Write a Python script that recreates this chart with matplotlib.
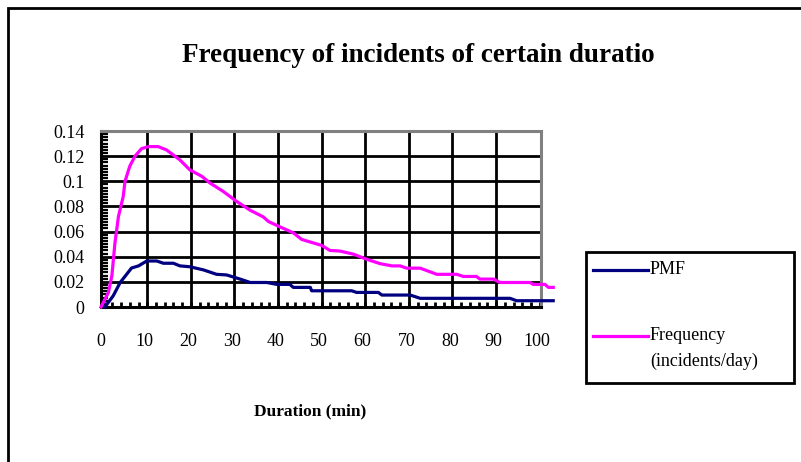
import matplotlib
matplotlib.use("Agg")
import matplotlib.pyplot as plt
import numpy as np
from matplotlib.patches import Rectangle
from matplotlib.lines import Line2D

plt.rcParams['font.family'] = ['Liberation Serif', 'DejaVu Serif']

# ---- data ----
dur_freq = [0, 1.7, 2.5, 3.2, 4.0, 5.1, 5.5, 6.6, 7.8, 9.3, 10.9, 13.1, 15.0, 18.1,
            20.4, 23.1, 25.0, 28.0, 31.1, 34.2, 37.2, 38.4, 41.0, 44.1, 46.0, 47.2,
            50.6, 52.5, 54.8, 57.9, 60.9, 64.0, 66.7, 68.6, 70.1, 73.2, 77.0, 81.6,
            83.1, 86.1, 86.9, 90.0, 91.5, 98.4, 99.1, 101.8, 102.6, 103.7]
freq = [0, 0.0116, 0.025, 0.051, 0.072, 0.088, 0.0999, 0.112, 0.120, 0.126, 0.1276,
        0.1276, 0.125, 0.117, 0.109, 0.104, 0.0986, 0.092, 0.084, 0.077, 0.0717,
        0.068, 0.0638, 0.059, 0.0538, 0.0525, 0.049, 0.045, 0.0445, 0.042, 0.038,
        0.0345, 0.0327, 0.0327, 0.0309, 0.0309, 0.026, 0.026, 0.0243, 0.0243,
        0.0222, 0.0222, 0.0195, 0.0195, 0.018, 0.018, 0.0156, 0.0156]

dur_pmf = [0.9, 2.8, 4.4, 7.0, 8.6, 10.5, 12.8, 14.3, 16.6, 18.1, 20.4, 23.5, 26.5,
           28.8, 31.9, 34.2, 38.0, 40.3, 43.3, 44.1, 48.0, 48.3, 57.5, 58.6, 63.6,
           64.4, 70.9, 73.2, 93.8, 95.3, 103.7]
pmf = [0, 0.0089, 0.0195, 0.031, 0.0327, 0.0366, 0.0366, 0.0348, 0.0348, 0.0327,
       0.032, 0.0295, 0.026, 0.0255, 0.0222, 0.0195, 0.0195, 0.018, 0.018, 0.0156,
       0.0156, 0.0129, 0.0129, 0.0116, 0.0116, 0.0095, 0.0095, 0.0069, 0.0069,
       0.005, 0.005]

series_names = ["PMF", "Frequency\n(incidents/day)"]
series_colors = ["#000080", "#FF00FF"]
x_tick_values = [0, 10, 20, 30, 40, 50, 60, 70, 80, 90, 100]
y_tick_values = [0, 0.02, 0.04, 0.06, 0.08, 0.1, 0.12, 0.14]
y_tick_labels = ["0", "0.02", "0.04", "0.06", "0.08", "0.1", "0.12", "0.14"]
title = "Frequency of incidents of certain duratio"
xlabel = "Duration (min)"

W, H = 801, 462
fig = plt.figure(figsize=(W / 100, H / 100), dpi=100)

def fx(px):
    return px / W

def fy(py):
    return 1 - py / H

ax = fig.add_axes([fx(101), fy(307), fx(541) - fx(101), fy(131) - fy(307)])
ax.set_xlim(0, 100.9)
ax.set_ylim(0, 0.14)

# gridlines
for v in y_tick_values[1:-1]:
    ax.axhline(v, color='black', lw=2.0, zorder=1)
for v in np.arange(10.6, 100, 10):
    ax.axvline(v, color='black', lw=2.0, zorder=1)

ax.plot(dur_pmf, pmf, color=series_colors[0], lw=2.3, zorder=3, clip_on=False,
        solid_joinstyle='round')
ax.plot(dur_freq, freq, color=series_colors[1], lw=2.3, zorder=4, clip_on=False,
        solid_joinstyle='round')

for s in ['left', 'bottom']:
    ax.spines[s].set_color('black')
    ax.spines[s].set_linewidth(2.2)
for s in ['top', 'right']:
    ax.spines[s].set_color('#808080')
    ax.spines[s].set_linewidth(2.2)

ax.set_xticks(x_tick_values)
ax.set_xticklabels([str(v) for v in x_tick_values])
ax.set_yticks(y_tick_values)
ax.set_yticklabels(y_tick_labels)
ax.set_xticks(np.arange(0.6, 100.9, 2), minor=True)
ax.set_yticks(np.arange(0, 0.14, 0.0025), minor=True)
ax.tick_params(axis='both', which='major', length=0, labelsize=13)
ax.tick_params(axis='x', which='major', pad=19)
ax.tick_params(axis='y', which='major', pad=12)
ax.tick_params(axis='x', which='minor', direction='in', length=3.5, width=2.0,
               color='black')
ax.tick_params(axis='y', which='minor', direction='in', length=5, width=1.6,
               color='black')

# title and axis label
fig.text(fx(418), fy(55.5), title, ha='center', va='center', fontsize=19.5,
         fontweight='bold')
fig.text(fx(310), fy(411), xlabel, ha='center', va='center', fontsize=12.5,
         fontweight='bold')

# legend box
fig.patches.append(Rectangle((fx(586), fy(383)), fx(794) - fx(586), fy(252) - fy(383),
                             transform=fig.transFigure, fill=False, ec='black', lw=2))
leg_y = [269.5, 336]
for name, col, ly in zip(series_names, series_colors, leg_y):
    fig.lines.append(Line2D([fx(593), fx(648)], [fy(ly), fy(ly)], color=col, lw=2.3,
                            transform=fig.transFigure))
    lines = name.split("\n")
    for i, t in enumerate(lines):
        fig.text(fx(650), fy(ly + 25.5 * i), t, ha='left', va='center', fontsize=13)

# outer frame (cropped on right and bottom)
fig.patches.append(Rectangle((fx(8), -0.05), 1.2, fy(8) + 0.05,
                             transform=fig.transFigure, fill=False, ec='black', lw=2))

fig.savefig("out.png", dpi=100)
